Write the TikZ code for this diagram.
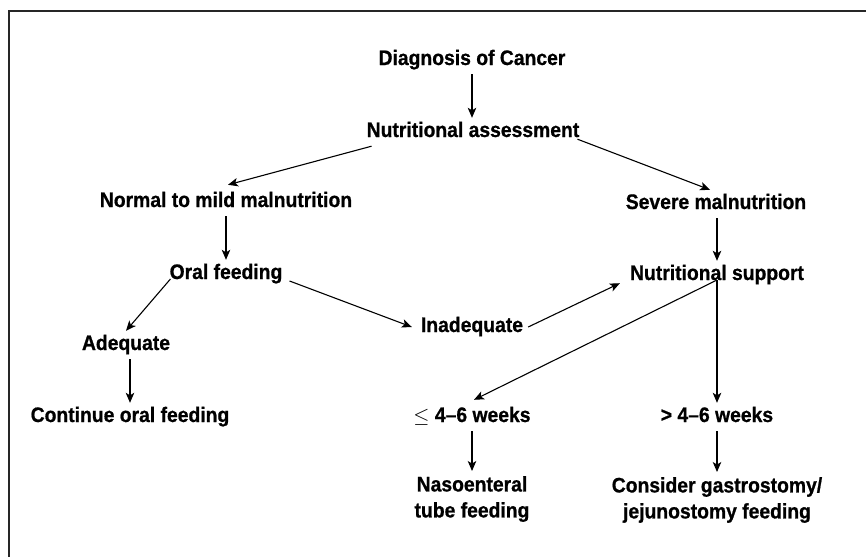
\documentclass[tikz,border=0pt]{standalone}
\usepackage{fontspec}
\setmainfont{Liberation Sans}[FakeStretch=0.92, BoldFeatures={FakeBold=0.8}]
\usetikzlibrary{arrows.meta,calc}
\begin{document}
\begin{tikzpicture}[x=1pt,y=-1pt,
  lbl/.style={font=\fontsize{21}{26}\selectfont\bfseries, inner sep=5pt, text height=14pt, text depth=4pt, anchor=base},
  lbltwo/.style={font=\fontsize{21}{26}\selectfont\bfseries, inner sep=5pt, align=center, anchor=north},
  arr/.style={-{Stealth[length=10pt,width=8.5pt,inset=2.5pt]}, line width=1.1pt}]
\useasboundingbox (0,0) rectangle (866,557);
\draw[line width=1.5pt, black!85] (866,11) -- (9,11) -- (9,557);

\node[lbl] (diag) at (472,65) {Diagnosis of Cancer};
\node[lbl] (assess) at (473,137) {Nutritional assessment};
\node[lbl] (normal) at (226,207) {Normal to mild malnutrition};
\node[lbl] (severe) at (716,209) {Severe malnutrition};
\node[lbl] (oral) at (226,279) {Oral feeding};
\node[lbl] (sup) at (717,280) {Nutritional support};
\node[lbl] (adeq) at (126,350) {Adequate};
\node[lbl] (inad) at (472,332) {Inadequate};
\node[lbl] (cont) at (130,422) {Continue oral feeding};
\node[lbl] (le) at (472,422) {$\leq$ 4--6 weeks};
\node[lbl] (gt) at (717,422) {> 4--6 weeks};
\node[lbltwo] (naso) at (472,471) {Nasoenteral\\tube feeding};
\node[lbltwo] (cons) at (717,472) {Consider gastrostomy/\\jejunostomy feeding};

\draw[arr] (diag.south) -- (diag.south |- assess.north);
\draw[arr] ($(assess.south west)+(10,0)$) -- ($(normal.north)+(2,-3)$);
\draw[arr] ($(assess.south east)+(-7,-7)$) -- ($(severe.north)+(-6,0)$);
\draw[arr] (normal.south) -- (normal.south |- oral.north);
\draw[arr] (sup.north |- severe.south) -- (sup.north);
\draw[arr] ($(oral.base west)+(6,0)$) -- (adeq.north);
\draw[arr] ($(oral.base east)+(2,2)$) -- ($(inad.west)+(-4,0)$);
\draw[arr] (inad.east) -- ($(sup.south west)+(-5,-6)$);
\draw[arr] (sup.base) -- ($(le.north)+(2,-3)$);
\draw[arr] (sup.base) -- (sup.base |- gt.north);
\draw[arr] (cont.north |- adeq.south) -- (cont.north);
\draw[arr] (le.south) -- (le.south |- naso.north);
\draw[arr] (gt.south) -- (gt.south |- cons.north);
\end{tikzpicture}
\end{document}
